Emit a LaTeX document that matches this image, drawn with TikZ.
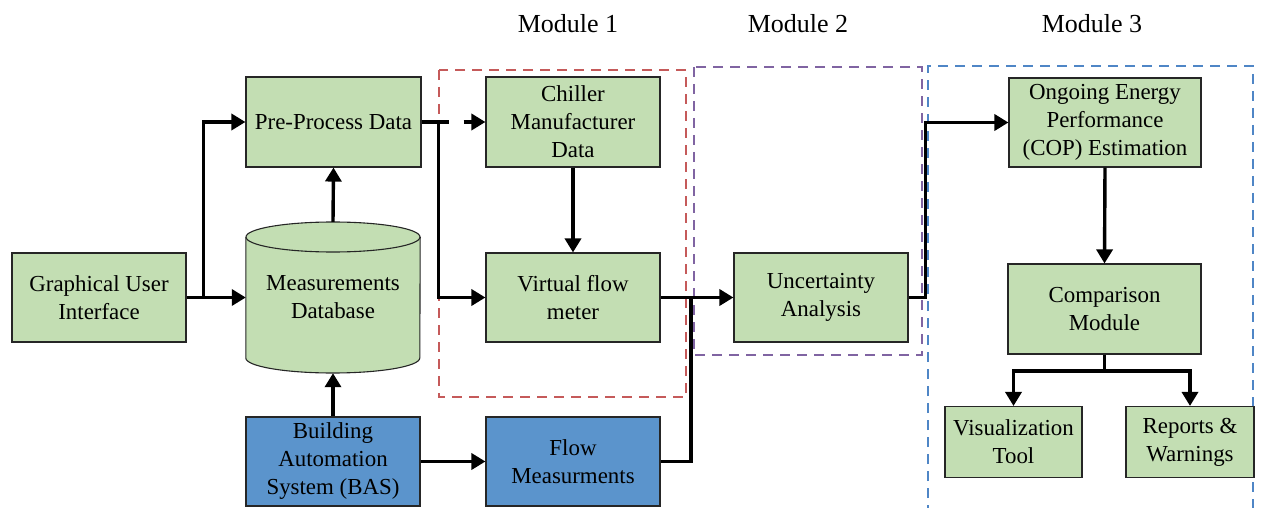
\documentclass[tikz,border=0pt]{standalone}
\usepackage{fontspec}
\setmainfont{Liberation Serif}
\usetikzlibrary{arrows.meta}
\definecolor{boxgreen}{HTML}{C3DEB3}
\definecolor{boxblue}{HTML}{5B94CC}
\definecolor{modred}{HTML}{C55A5A}
\definecolor{modpurple}{HTML}{8064A2}
\definecolor{modblue}{HTML}{4F86C6}
\begin{document}
\begin{tikzpicture}[x=1pt,y=-1pt,
  box/.style={draw=black!85, line width=1.1pt, fill=boxgreen, align=center,
    inner sep=0pt, font=\fontsize{22.9}{28}\selectfont},
  bluebox/.style={box, fill=boxblue},
  wire/.style={line width=3.4pt, draw=black},
  arr/.style={wire, -{Triangle[length=14pt,width=16pt]}},
  modframe/.style={line width=2.7pt, dash pattern=on 10pt off 7pt},
  modlabel/.style={font=\fontsize{26}{30}\selectfont}
]
\useasboundingbox (0,0) rectangle (1262,508);

% module frames
\draw[modframe, modred] (439,70) rectangle (686,397);
\draw[modframe, modpurple] (694,67) rectangle (922,355);
\draw[modframe, modblue] (928,515) -- (928,66) -- (1253,66) -- (1253,515);

% module titles
\node[modlabel] (m1) at (568,24) {Module 1};
\node[modlabel] (m2) at (798,24) {Module 2};
\node[modlabel] (m3) at (1092,24) {Module 3};

% blocks
\node[box, minimum width=174pt, minimum height=89pt] (gui) at (99,297.5) {Graphical User\\Interface};
\node[box, minimum width=175pt, minimum height=90pt] (pp) at (333.5,122) {Pre-Process Data};
\node[bluebox, minimum width=174pt, minimum height=89pt] (bas) at (333,461.5) {Building\\Automation\\System (BAS)};
\node[box, minimum width=174pt, minimum height=90pt] (chl) at (573,122) {Chiller\\Manufacturer\\Data};
\node[box, minimum width=174pt, minimum height=89pt] (vfm) at (573,297.5) {Virtual flow\\meter};
\node[bluebox, minimum width=174pt, minimum height=89pt] (flow) at (573,461.5) {Flow\\Measurments};
\node[box, minimum width=174pt, minimum height=89pt] (unc) at (821,297.5) {Uncertainty\\Analysis};
\node[box, minimum width=192pt, minimum height=89pt] (ong) at (1105,122.5) {Ongoing Energy\\Performance\\(COP) Estimation};
\node[box, minimum width=193pt, minimum height=90pt] (cmp) at (1104.5,309) {Comparison\\Module};
\node[box, minimum width=137pt, minimum height=71pt] (vis) at (1013.5,442) {Visualization\\Tool};
\node[box, minimum width=128pt, minimum height=71pt] (rep) at (1190,442) {Reports \&\\Warnings};

% database cylinder
\node[inner sep=0pt, minimum width=174pt, minimum height=151pt] (db) at (333,297.5) {};
\fill[boxgreen] (db.west |- 0,237) -- (db.west |- 0,358) arc[start angle=180, end angle=360, x radius=87pt, y radius=15pt]
  -- (db.east |- 0,237) arc[start angle=0, end angle=180, x radius=87pt, y radius=15pt] -- cycle;
\draw[black!85, line width=1.1pt] (db.west |- 0,237) -- (db.west |- 0,358)
  arc[start angle=180, end angle=360, x radius=87pt, y radius=15pt] -- (db.east |- 0,237);
\draw[black!85, line width=1.1pt] (db.center |- 0,237) ellipse[x radius=87pt, y radius=15pt];
\node[align=center, font=\fontsize{22.9}{28}\selectfont] (dbtext) at (db.center) {Measurements\\Database};

% connectors
\draw[arr] (gui.east) -- (db.west);
\draw[arr] ([xshift=17pt]gui.east) |- (pp.west);
\draw[arr] (db.north) -- (pp.south);
\draw[arr] (bas.north) -- (db.south);
\draw[arr, dash pattern=on 27pt off 15pt on 40pt] (pp.east) -- (chl.west);
\draw[arr] ([xshift=17pt]pp.east) |- (vfm.west);
\draw[arr] (chl.south) -- (vfm.north);
\draw[arr] (bas.east) -- (flow.west);
\draw[arr] (vfm.east) -- (unc.west);
\coordinate (fj) at (691,297.5);
\draw[wire] (flow.east) -| (fj);
\draw[arr] (unc.east) -- ++(17,0) |- (ong.west);
\draw[arr] (ong.south) -- (cmp.north);
\coordinate (sp) at (1104.5,371);
\draw[wire] (cmp.south) -- (sp);
\draw[arr] (sp) -| (vis.north);
\draw[arr] (sp) -| (rep.north);
\end{tikzpicture}
\end{document}
